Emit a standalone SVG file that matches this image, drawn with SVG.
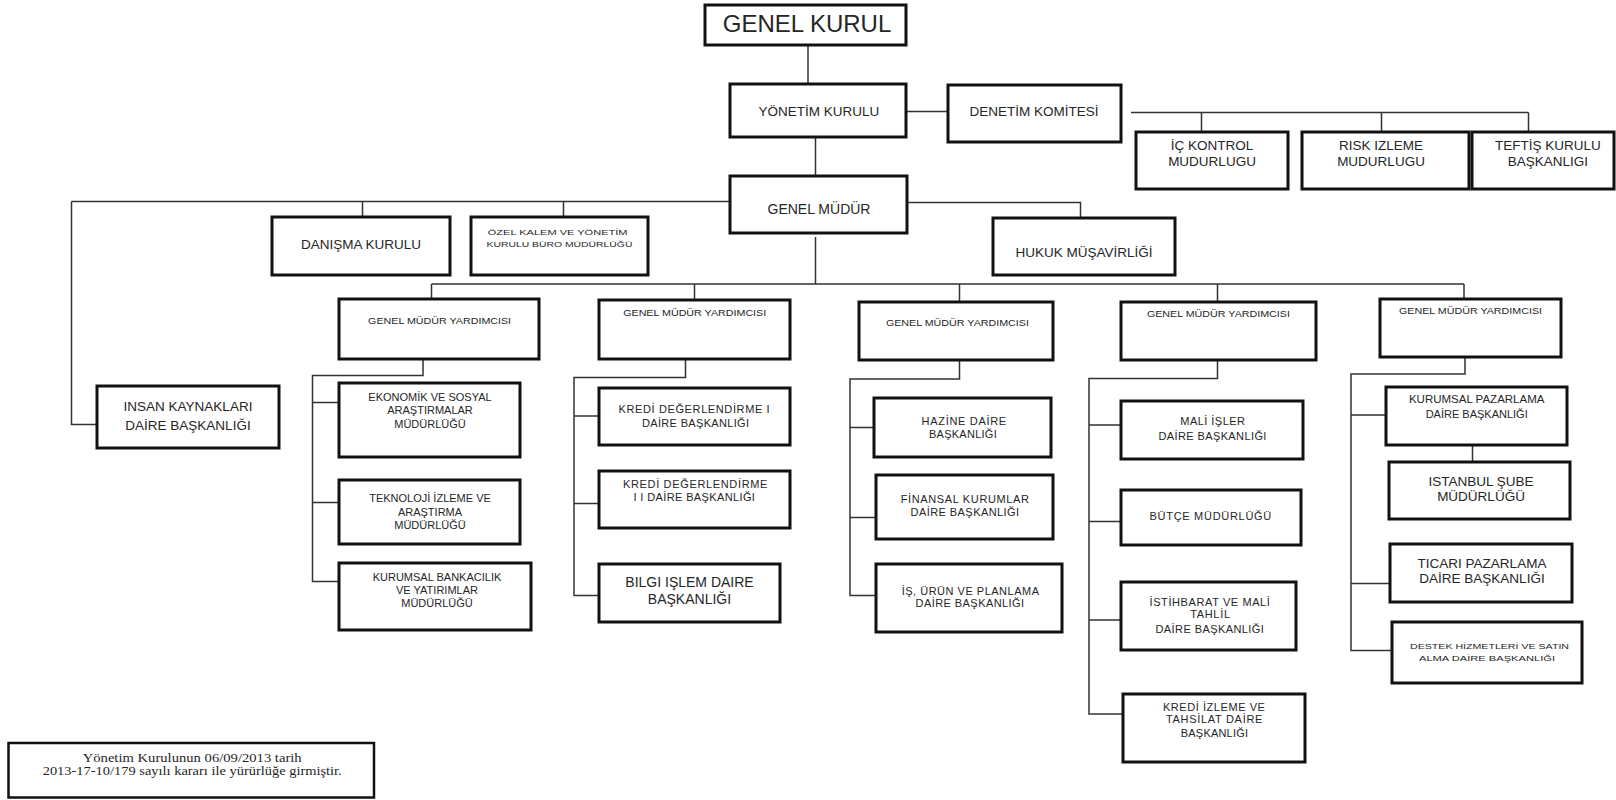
<svg xmlns="http://www.w3.org/2000/svg" width="1616" height="800" viewBox="0 0 1616 800">
  <style>
    .box { fill: #ffffff; stroke: #111111; stroke-width: 3; }
    .wire { fill: none; stroke: #333333; stroke-width: 1.5; }
    text { font-family: "Liberation Sans", Arial, sans-serif; fill: #262626; }
    .xl { font-size: 24px; text-anchor: middle; }
    .m { font-size: 13.5px; text-anchor: middle; }
    .m14 { font-size: 14px; text-anchor: middle; }
    .s { font-size: 11px; text-anchor: middle; }
    .sl { font-size: 11px; }
    .g { font-size: 9px; }
    .t { font-size: 8px; }
    .note { font-family: "Liberation Serif", "Times New Roman", serif; font-size: 12px; }
  </style>
  <rect width="1616" height="800" fill="#ffffff"/>

  <!-- connectors -->
  <g id="connectors" class="wire">
    <path d="M808 45V84"/>
    <path d="M906 111.5H948"/>
    <path d="M1131 112.5H1528.5 M1201.5 112.5V132 M1381.5 112.5V132 M1528.5 112.5V132"/>
    <path d="M815.5 137V176"/>
    <path d="M71.5 201.5H730 M362.5 201.5V217 M563.5 201.5V217"/>
    <path d="M71.5 201.5V424.5H97"/>
    <path d="M907 202.5H1080.5V218"/>
    <path d="M815.5 237V284"/>
    <path d="M431.5 284H1464 M431.5 284V299 M694.5 284V300 M959.5 284V302 M1217.5 284V302 M1464 284V299"/>
    <path d="M423 359V375.5H312.5V581.5H339 M312.5 402.5H339 M312.5 502.5H339"/>
    <path d="M685.5 359V377.5H574V595.5H599 M574 416H599 M574 503.5H599"/>
    <path d="M959.5 360V379H850V595.5H876 M850 427.5H874 M850 517.5H876"/>
    <path d="M1217.5 360V378.5H1089V714H1123 M1089 425H1121 M1089 521.5H1121 M1089 620H1121"/>
    <path d="M1465 357V374H1351V650.5H1392 M1351 415H1386 M1351 583.5H1390 M1472.5 445V462"/>
  </g>

  <!-- top level -->
  <g id="genel-kurul">
    <rect class="box" x="705" y="5" width="201" height="40"/>
    <text class="xl" x="807" y="32">GENEL KURUL</text>
  </g>
  <g id="yonetim-kurulu">
    <rect class="box" x="730" y="84" width="176" height="53"/>
    <text class="m" x="819" y="116">YÖNETİM KURULU</text>
  </g>
  <g id="denetim-komitesi">
    <rect class="box" x="948" y="85" width="173" height="57"/>
    <text class="m" x="1034" y="116">DENETİM KOMİTESİ</text>
  </g>
  <g id="ic-kontrol">
    <rect class="box" x="1136" y="132" width="152" height="57"/>
    <text class="m" x="1212" y="149.8">İÇ KONTROL</text>
    <text class="m" x="1212" y="165.5">MUDURLUGU</text>
  </g>
  <g id="risk-izleme">
    <rect class="box" x="1302" y="132" width="167" height="57"/>
    <text class="m" x="1381" y="149.8">RISK IZLEME</text>
    <text class="m" x="1381" y="165.5">MUDURLUGU</text>
  </g>
  <g id="teftis-kurulu">
    <rect class="box" x="1472" y="132" width="142" height="57"/>
    <text class="m" x="1548" y="149.8">TEFTİŞ KURULU</text>
    <text class="m" x="1548" y="165.5">BAŞKANLIGI</text>
  </g>
  <g id="genel-mudur">
    <rect class="box" x="730" y="176" width="177" height="57"/>
    <text class="m14" x="819" y="214.3">GENEL MÜDÜR</text>
  </g>
  <g id="hukuk">
    <rect class="box" x="993" y="218" width="182" height="57"/>
    <text class="m" x="1084" y="256.5">HUKUK MÜŞAVİRLİĞİ</text>
  </g>
  <g id="danisma">
    <rect class="box" x="272" y="217" width="178" height="58"/>
    <text class="m" x="361" y="249.3">DANIŞMA KURULU</text>
  </g>
  <g id="ozel-kalem">
    <rect class="box" x="471" y="217" width="177" height="58"/>
    <text class="t" x="487.8" y="234.8" textLength="139.7" lengthAdjust="spacingAndGlyphs">ÖZEL KALEM VE YÖNETİM</text>
    <text class="t" x="486.6" y="246.5" textLength="145.8" lengthAdjust="spacingAndGlyphs">KURULU BÜRO MÜDÜRLÜĞÜ</text>
  </g>
  <g id="insan-kaynaklari">
    <rect class="box" x="97" y="386" width="182" height="62"/>
    <text class="m" x="188" y="410.8">INSAN KAYNAKLARI</text>
    <text class="m" x="188" y="429.8">DAİRE BAŞKANLIĞI</text>
  </g>

  <!-- column 1 -->
  <g id="gmy-1">
    <rect class="box" x="339" y="299" width="200" height="60"/>
    <text class="g" x="368.1" y="323.5" textLength="143" lengthAdjust="spacingAndGlyphs">GENEL MÜDÜR YARDIMCISI</text>
  </g>
  <g id="ekonomik-sosyal">
    <rect class="box" x="339" y="383" width="181" height="74"/>
    <text class="s" x="430" y="400.5">EKONOMİK VE SOSYAL</text>
    <text class="s" x="430" y="414">ARAŞTIRMALAR</text>
    <text class="s" x="430" y="427.5">MÜDÜRLÜĞÜ</text>
  </g>
  <g id="teknoloji-izleme">
    <rect class="box" x="339" y="480" width="181" height="64"/>
    <text class="s" x="430" y="502">TEKNOLOJİ İZLEME VE</text>
    <text class="s" x="430" y="515.5">ARAŞTIRMA</text>
    <text class="s" x="430" y="529">MÜDÜRLÜĞÜ</text>
  </g>
  <g id="kurumsal-bankacilik">
    <rect class="box" x="339" y="563" width="192" height="67"/>
    <text class="s" x="437" y="580.6">KURUMSAL BANKACILIK</text>
    <text class="s" x="437" y="593.9">VE YATIRIMLAR</text>
    <text class="s" x="437" y="607.2">MÜDÜRLÜĞÜ</text>
  </g>

  <!-- column 2 -->
  <g id="gmy-2">
    <rect class="box" x="599" y="300" width="191" height="59"/>
    <text class="g" x="623.2" y="315.5" textLength="143" lengthAdjust="spacingAndGlyphs">GENEL MÜDÜR YARDIMCISI</text>
  </g>
  <g id="kredi-degerlendirme-1">
    <rect class="box" x="599" y="388" width="191" height="57"/>
    <text class="sl" x="618.6" y="413.2" textLength="151">KREDİ DEĞERLENDİRME I</text>
    <text class="sl" x="642" y="427.2" textLength="107">DAİRE BAŞKANLIĞI</text>
  </g>
  <g id="kredi-degerlendirme-2">
    <rect class="box" x="599" y="471" width="191" height="57"/>
    <text class="sl" x="623" y="487.9" textLength="144.4">KREDİ DEĞERLENDİRME</text>
    <text class="sl" x="633.5" y="500.6" textLength="121.4">I I DAİRE BAŞKANLIĞI</text>
  </g>
  <g id="bilgi-islem">
    <rect class="box" x="599" y="564" width="181" height="58"/>
    <text class="m14" x="689.5" y="587.3">BILGI IŞLEM DAIRE</text>
    <text class="m14" x="689.5" y="604">BAŞKANLIĞI</text>
  </g>

  <!-- column 3 -->
  <g id="gmy-3">
    <rect class="box" x="859" y="302" width="194" height="58"/>
    <text class="g" x="885.9" y="325.5" textLength="143" lengthAdjust="spacingAndGlyphs">GENEL MÜDÜR YARDIMCISI</text>
  </g>
  <g id="hazine">
    <rect class="box" x="874" y="398" width="177" height="59"/>
    <text class="sl" x="921.6" y="424.6" textLength="84.6">HAZİNE DAİRE</text>
    <text class="sl" x="929" y="438.2" textLength="67.7">BAŞKANLIĞI</text>
  </g>
  <g id="finansal-kurumlar">
    <rect class="box" x="876" y="475" width="177" height="64"/>
    <text class="sl" x="900.7" y="502.9" textLength="128.3">FİNANSAL KURUMLAR</text>
    <text class="sl" x="910.6" y="515.6" textLength="108.5">DAİRE BAŞKANLIĞI</text>
  </g>
  <g id="is-urun-planlama">
    <rect class="box" x="876" y="564" width="186" height="68"/>
    <text class="sl" x="901.7" y="594.6" textLength="137.3">İŞ, ÜRÜN VE PLANLAMA</text>
    <text class="sl" x="915.6" y="606.6" textLength="108.5">DAİRE BAŞKANLIĞI</text>
  </g>

  <!-- column 4 -->
  <g id="gmy-4">
    <rect class="box" x="1121" y="302" width="195" height="58"/>
    <text class="g" x="1146.9" y="316.5" textLength="143" lengthAdjust="spacingAndGlyphs">GENEL MÜDÜR YARDIMCISI</text>
  </g>
  <g id="mali-isler">
    <rect class="box" x="1121" y="401" width="182" height="58"/>
    <text class="sl" x="1180.3" y="424.9" textLength="64.7">MALİ İŞLER</text>
    <text class="sl" x="1158.4" y="440.2" textLength="108">DAİRE BAŞKANLIĞI</text>
  </g>
  <g id="butce">
    <rect class="box" x="1121" y="490" width="180" height="55"/>
    <text class="sl" x="1149.5" y="519.6" textLength="121.8">BÜTÇE MÜDÜRLÜĞÜ</text>
  </g>
  <g id="istihbarat">
    <rect class="box" x="1121" y="582" width="175" height="68"/>
    <text class="sl" x="1149.5" y="605.6" textLength="120.4">İSTİHBARAT VE MALİ</text>
    <text class="sl" x="1190.2" y="618.2" textLength="39.8">TAHLİL</text>
    <text class="sl" x="1155.4" y="633.2" textLength="108.5">DAİRE BAŞKANLIĞI</text>
  </g>
  <g id="kredi-izleme">
    <rect class="box" x="1123" y="694" width="182" height="68"/>
    <text class="sl" x="1162.9" y="710.6" textLength="102">KREDİ İZLEME VE</text>
    <text class="sl" x="1165.9" y="723.2" textLength="96.5">TAHSİLAT DAİRE</text>
    <text class="sl" x="1180.8" y="737.2" textLength="67.2">BAŞKANLIĞI</text>
  </g>

  <!-- column 5 -->
  <g id="gmy-5">
    <rect class="box" x="1380" y="299" width="181" height="58"/>
    <text class="g" x="1399" y="314.2" textLength="143" lengthAdjust="spacingAndGlyphs">GENEL MÜDÜR YARDIMCISI</text>
  </g>
  <g id="kurumsal-pazarlama">
    <rect class="box" x="1386" y="387" width="181" height="58"/>
    <text class="s" x="1476.7" y="403.2" style="font-size:11.5px">KURUMSAL PAZARLAMA</text>
    <text class="s" x="1476.7" y="418.2">DAİRE BAŞKANLIĞI</text>
  </g>
  <g id="istanbul-sube">
    <rect class="box" x="1389" y="462" width="181" height="57"/>
    <text class="m" x="1481" y="485.6">ISTANBUL ŞUBE</text>
    <text class="m" x="1481" y="501">MÜDÜRLÜĞÜ</text>
  </g>
  <g id="ticari-pazarlama">
    <rect class="box" x="1390" y="544" width="182" height="58"/>
    <text class="m" x="1482" y="567.5">TICARI PAZARLAMA</text>
    <text class="m" x="1482" y="582.8">DAİRE BAŞKANLIĞI</text>
  </g>
  <g id="destek-hizmetleri">
    <rect class="box" x="1392" y="622" width="190" height="61"/>
    <text class="t" x="1410" y="648.9" textLength="159" lengthAdjust="spacingAndGlyphs">DESTEK HİZMETLERİ VE SATIN</text>
    <text class="t" x="1419" y="660.6" textLength="136" lengthAdjust="spacingAndGlyphs">ALMA DAİRE BAŞKANLIĞI</text>
  </g>

  <!-- approval note -->
  <g id="note">
    <rect x="8.5" y="743" width="365.5" height="54.5" fill="#ffffff" stroke="#111111" stroke-width="2.5"/>
    <text class="note" x="82.7" y="762" textLength="219" lengthAdjust="spacingAndGlyphs">Yönetim Kurulunun 06/09/2013 tarih</text>
    <text class="note" x="42.7" y="774.5" textLength="299" lengthAdjust="spacingAndGlyphs">2013-17-10/179 sayılı kararı ile yürürlüğe girmiştir.</text>
  </g>
</svg>
